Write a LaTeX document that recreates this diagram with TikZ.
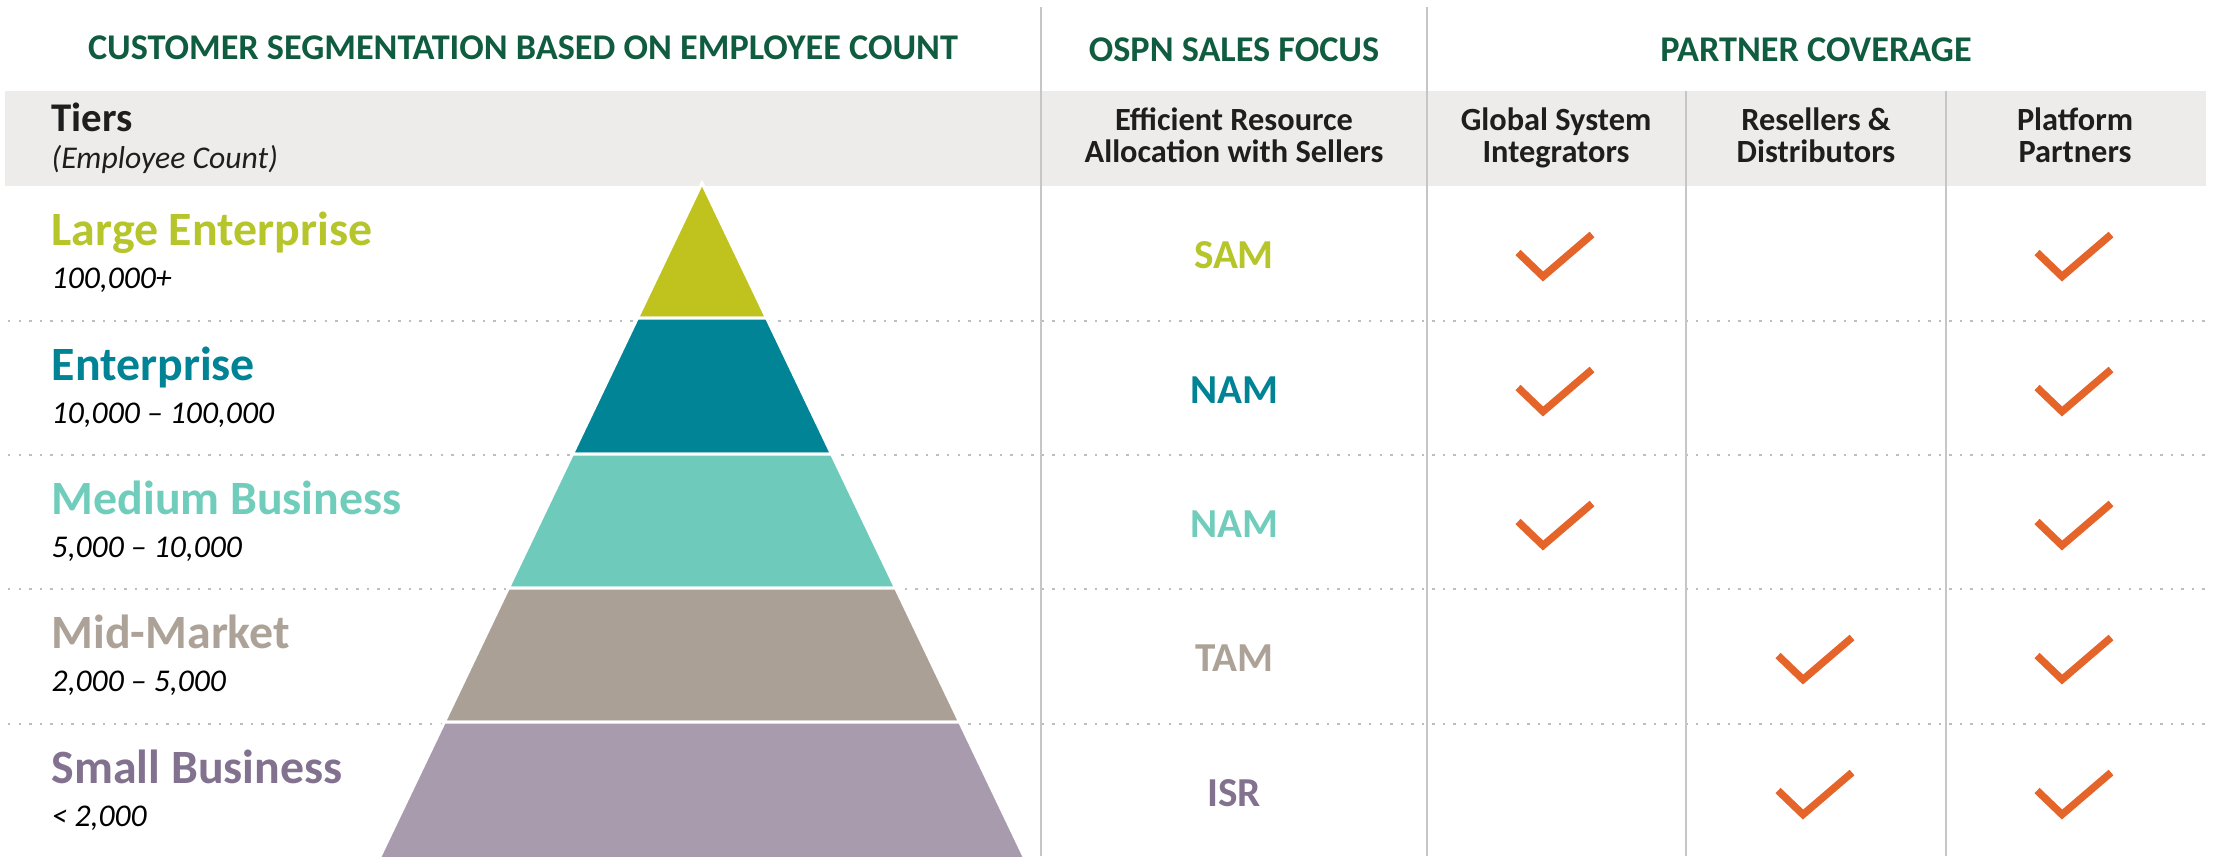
\documentclass[tikz,border=0pt]{standalone}
\usepackage{fontspec}
\setmainfont{Carlito}
\usetikzlibrary{calc}

\definecolor{hdgreen}{RGB}{16,92,64}
\definecolor{hdblack}{RGB}{30,30,30}
\definecolor{bandgray}{RGB}{237,236,234}
\definecolor{rulegray}{RGB}{198,198,198}
\definecolor{dotgray}{RGB}{190,190,190}
\definecolor{tickorange}{RGB}{228,100,42}
\definecolor{txtLE}{RGB}{181,197,42}
\definecolor{txtEN}{RGB}{0,131,149}
\definecolor{txtMB}{RGB}{112,205,188}
\definecolor{txtMM}{RGB}{172,162,151}
\definecolor{txtSB}{RGB}{131,114,143}
\definecolor{pyrLE}{RGB}{192,195,30}
\definecolor{pyrEN}{RGB}{0,132,150}
\definecolor{pyrMB}{RGB}{110,203,187}
\definecolor{pyrMM}{RGB}{171,160,149}
\definecolor{pyrSB}{RGB}{168,155,173}

\begin{document}
\begin{tikzpicture}[x=0.01cm,y=-0.01cm,
    coltitle/.style={font=\bfseries\fontsize{10.3}{12}\selectfont,
        text=hdgreen,anchor=base},
    colhead/.style={font=\bfseries\fontsize{9.2}{9}\selectfont,
        text=hdblack,align=center,anchor=base},
    tiername/.style={font=\bfseries\fontsize{13.6}{15}\selectfont,
        anchor=base west,inner sep=0pt},
    tiersize/.style={font=\itshape\fontsize{9}{11}\selectfont,
        anchor=base west,inner sep=0pt},
    focus/.style={font=\bfseries\fontsize{11.7}{14}\selectfont,anchor=base},
    rule/.style={draw=rulegray,line width=0.6pt},
    dots/.style={draw=dotgray,line width=0.7pt,dash pattern=on 0.7pt off 2.3pt},
    tick/.style={draw=tickorange,line width=2.1pt}
]
    \useasboundingbox (0,0) rectangle (2215,856);
    \fill[white] (0,0) rectangle (2215,856);
    \fill[bandgray] (5,91) rectangle (2206,186);

    \foreach \y in {321,455,589,724}
        \draw[dots] (8,\y) -- (2206,\y);
    \foreach \x/\t in {1041/7,1427/7,1686/91,1946/91}
        \draw[rule] (\x,\t) -- (\x,856);

    \coordinate (apex) at (702,183);
    \coordinate (bl) at (373.6,870);
    \coordinate (br) at (1030.4,870);
    \foreach \a/\b/\c in {0/0.1965/pyrLE,0.1965/0.3945/pyrEN,
        0.3945/0.5895/pyrMB,0.5895/0.7846/pyrMM,0.7846/1/pyrSB}
        \filldraw[fill=\c,draw=white,line width=0.85pt]
            ($(apex)!\a!(bl)$) -- ($(apex)!\b!(bl)$)
            -- ($(apex)!\b!(br)$) -- ($(apex)!\a!(br)$) -- cycle;

    \node[coltitle] (segtitle) at (523,59)
        {CUSTOMER SEGMENTATION BASED ON EMPLOYEE COUNT};
    \node[coltitle] (ospntitle) at (1234,61) {OSPN SALES FOCUS};
    \node[coltitle] (partnertitle) at (1816,61) {PARTNER COVERAGE};

    \node[tiername,text=hdblack,font=\bfseries\fontsize{11.6}{13}\selectfont]
        (tiers) at (51,131.5) {Tiers};
    \node[tiersize,text=hdblack] (empcount) at (51,168) {(Employee Count)};
    \node[colhead] (effic) at (1234,162)
        {Efficient Resource\\Allocation with Sellers};
    \node[colhead] (gsi) at (1556,162) {Global System\\Integrators};
    \node[colhead] (resel) at (1816,162) {Resellers \&\\Distributors};
    \node[colhead] (platf) at (2075,162) {Platform\\Partners};

    \foreach \n/\y/\c/\tier/\range/\fc in {
        le/186/txtLE/Large Enterprise/{100,000+}/SAM,
        en/321/txtEN/Enterprise/{10,000 – 100,000}/NAM,
        mb/455/txtMB/Medium Business/{5,000 – 10,000}/NAM,
        mm/589/txtMM/Mid-Market/{2,000 – 5,000}/TAM,
        sb/724/txtSB/Small Business/{< 2,000}/ISR}
    {
        \node[tiername,text=\c] (\n-tier) at (51,\y+59) {\tier};
        \node[tiersize] (\n-range) at (51,\y+102.5) {\range};
        \node[focus,text=\c] (\n-focus) at (1234,\y+82) {\fc};
    }

    \foreach \cx/\y in {1556/186,2075/186,1556/321,2075/321,1556/455,
        2075/455,1816/589,2075/589,1816/724,2075/724}
        \draw[tick] (\cx-38,\y+66.5) -- (\cx-13,\y+90.5) -- (\cx+36,\y+48.5);
\end{tikzpicture}
\end{document}
